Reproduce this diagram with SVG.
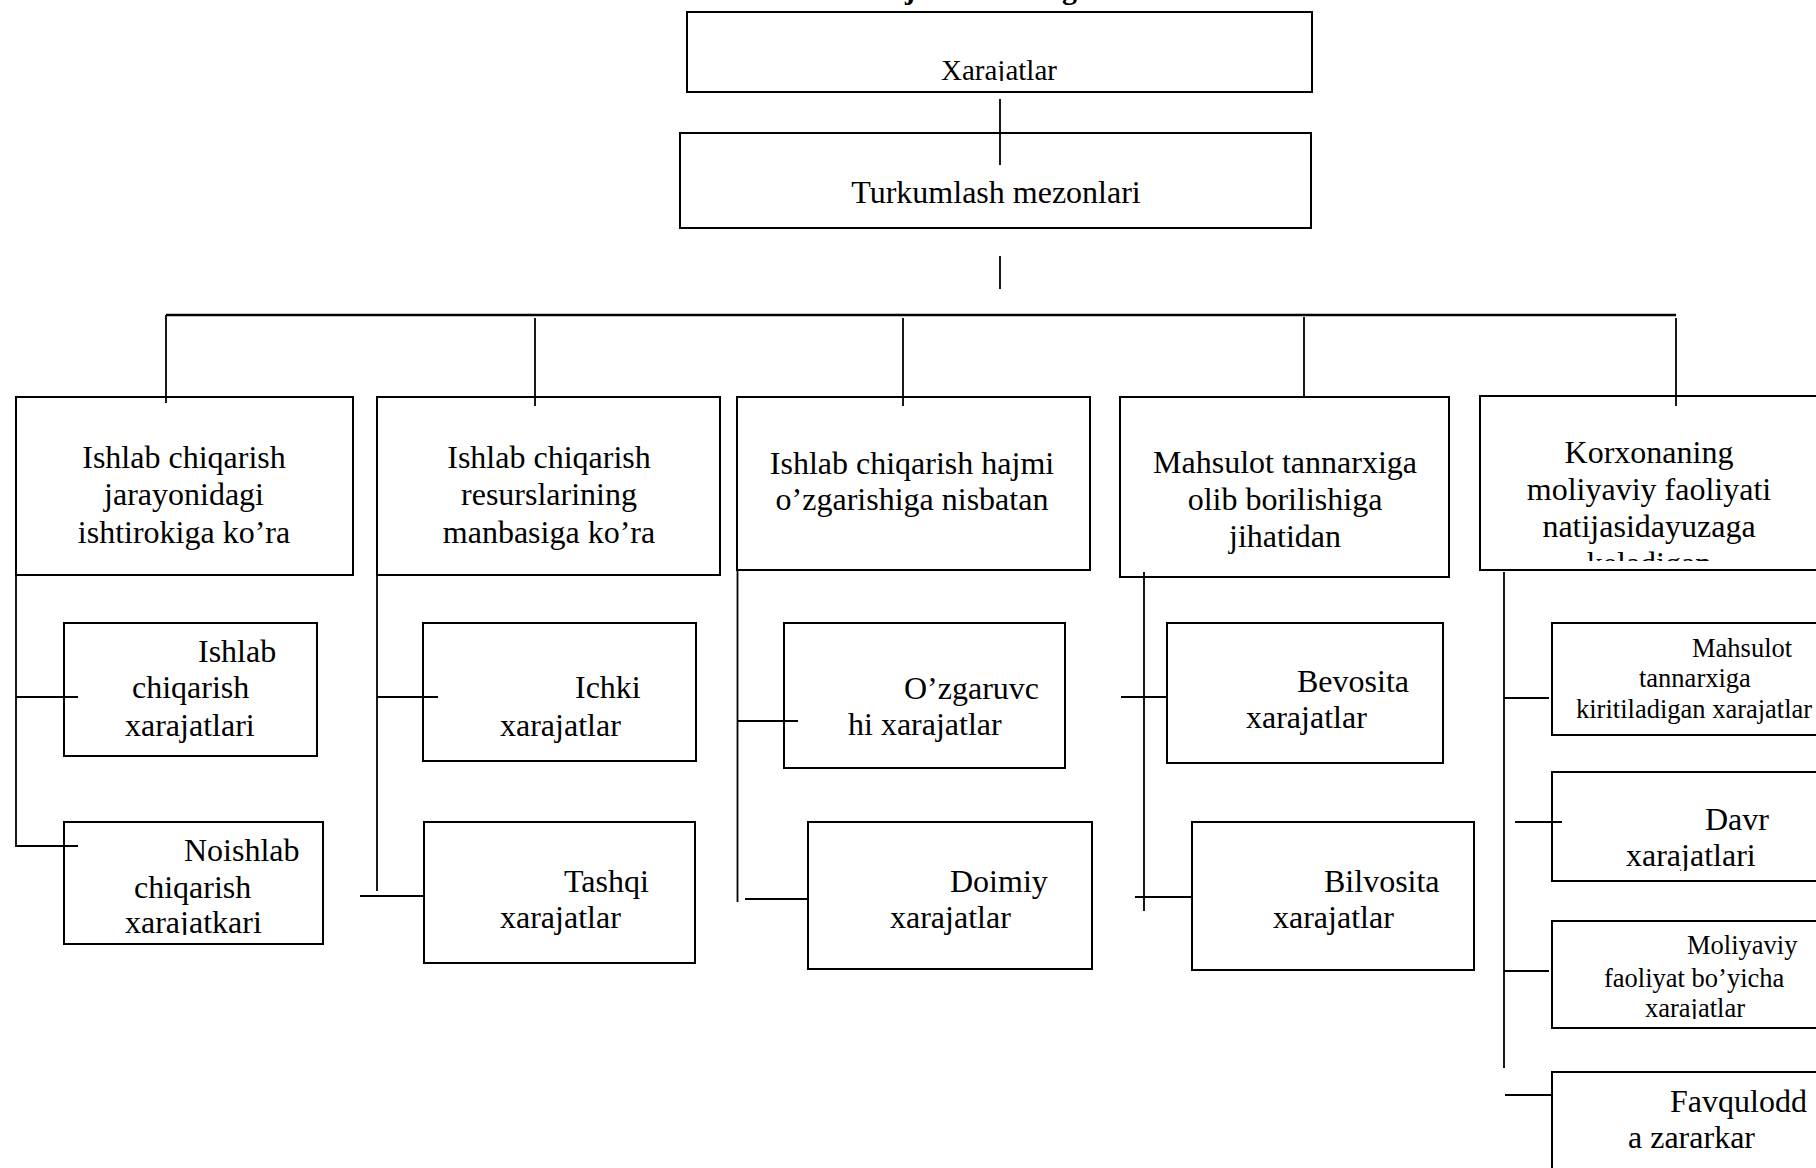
<svg xmlns="http://www.w3.org/2000/svg" width="1816" height="1168" viewBox="0 0 1816 1168">
<style>
.box{fill:none;stroke:#000;stroke-width:2}
.ln{stroke:#000;stroke-width:1.8;fill:none}
.bus{stroke:#000;stroke-width:2.6;fill:none}
.t{font-family:"Liberation Serif","Times New Roman",serif;font-size:32px;fill:#000}
.s{font-size:26.5px}
.c{text-anchor:middle}
.title{font-family:"Liberation Serif","Times New Roman",serif;font-weight:bold;font-size:30px;fill:#000}
</style>
<defs>
<clipPath id="cp0"><rect x="687" y="12" width="625" height="69"/></clipPath>
<clipPath id="cp5"><rect x="1480" y="396" width="340" height="165"/></clipPath>
<clipPath id="cp12"><rect x="64" y="822" width="259" height="113"/></clipPath>
<clipPath id="cp52"><rect x="1552" y="772" width="270" height="99"/></clipPath>
<clipPath id="cp53"><rect x="1552" y="921" width="270" height="98"/></clipPath>
</defs>
<rect width="1816" height="1168" fill="#fff"/>
<text class="title" y="-1"><tspan x="840">Xarajatlarnin</tspan><tspan x="1062">g turkumlanishi</tspan></text>

<g id="n-xarajatlar"><rect class="box" x="687" y="12" width="625" height="80"/><text class="t c" x="999" y="80" style="font-size:29px" clip-path="url(#cp0)">Xarajatlar</text></g>
<g id="n-turkumlash"><rect class="box" x="680" y="133" width="631" height="95"/><text class="t c" x="996" y="203">Turkumlash mezonlari</text></g>

<g id="n-c1"><rect class="box" x="16" y="397" width="337" height="178"/><text class="t c" x="184" y="468">Ishlab chiqarish</text><text class="t c" x="184" y="505">jarayonidagi</text><text class="t c" x="184" y="543">ishtirokiga ko’ra</text></g>
<g id="n-c2"><rect class="box" x="377" y="397" width="343" height="178"/><text class="t c" x="549" y="468">Ishlab chiqarish</text><text class="t c" x="549" y="505">resurslarining</text><text class="t c" x="549" y="543">manbasiga ko’ra</text></g>
<g id="n-c3"><rect class="box" x="737" y="397" width="353" height="173"/><text class="t c" x="912" y="474">Ishlab chiqarish hajmi</text><text class="t c" x="912" y="510">o’zgarishiga nisbatan</text></g>
<g id="n-c4"><rect class="box" x="1120" y="397" width="329" height="180"/><text class="t c" x="1285" y="473">Mahsulot tannarxiga</text><text class="t c" x="1285" y="510">olib borilishiga</text><text class="t c" x="1285" y="547">jihatidan</text></g>
<g id="n-c5"><rect class="box" x="1480" y="396" width="350" height="174"/><g clip-path="url(#cp5)"><text class="t c" x="1649" y="463">Korxonaning</text><text class="t c" x="1649" y="500">moliyaviy faoliyati</text><text class="t c" x="1649" y="537">natijasidayuzaga</text><text class="t c" x="1649" y="574">keladigan</text></g></g>

<g id="n-b11"><rect class="box" x="64" y="623" width="253" height="133"/><text class="t" x="198" y="662">Ishlab</text><text class="t" x="132" y="698">chiqarish</text><text class="t" x="125" y="736">xarajatlari</text></g>
<g id="n-b12"><rect class="box" x="64" y="822" width="259" height="122"/><g clip-path="url(#cp12)"><text class="t" x="184" y="861">Noishlab</text><text class="t" x="134" y="898">chiqarish</text><text class="t" x="125" y="933">xarajatkari</text></g></g>
<g id="n-b21"><rect class="box" x="423" y="623" width="273" height="138"/><text class="t" x="575" y="698">Ichki</text><text class="t" x="500" y="736">xarajatlar</text></g>
<g id="n-b22"><rect class="box" x="424" y="822" width="271" height="141"/><text class="t" x="564" y="892">Tashqi</text><text class="t" x="500" y="928">xarajatlar</text></g>
<g id="n-b31"><rect class="box" x="784" y="623" width="281" height="145"/><text class="t" x="904" y="699">O’zgaruvc</text><text class="t" x="848" y="735">hi xarajatlar</text></g>
<g id="n-b32"><rect class="box" x="808" y="822" width="284" height="147"/><text class="t" x="950" y="892">Doimiy</text><text class="t" x="890" y="928">xarajatlar</text></g>
<g id="n-b41"><rect class="box" x="1167" y="623" width="276" height="140"/><text class="t" x="1297" y="692">Bevosita</text><text class="t" x="1246" y="728">xarajatlar</text></g>
<g id="n-b42"><rect class="box" x="1192" y="822" width="282" height="148"/><text class="t" x="1324" y="892">Bilvosita</text><text class="t" x="1273" y="928">xarajatlar</text></g>
<g id="n-b51"><rect class="box" x="1552" y="623" width="280" height="112"/><text class="t s" x="1692" y="657">Mahsulot</text><text class="t s" x="1639" y="687">tannarxiga</text><text class="t s" x="1576" y="718">kiritiladigan xarajatlar</text></g>
<g id="n-b52"><rect class="box" x="1552" y="772" width="280" height="109"/><g clip-path="url(#cp52)"><text class="t" x="1705" y="830">Davr</text><text class="t" x="1626" y="866">xarajatlari</text></g></g>
<g id="n-b53"><rect class="box" x="1552" y="921" width="280" height="107"/><g clip-path="url(#cp53)"><text class="t s" x="1687" y="954">Moliyaviy</text><text class="t s" x="1604" y="987">faoliyat bo’yicha</text><text class="t s" x="1645" y="1017">xarajatlar</text></g></g>
<g id="n-b54"><rect class="box" x="1552" y="1072" width="280" height="120"/><text class="t" x="1670" y="1112">Favqulodd</text><text class="t" x="1628" y="1148">a zararkar</text></g>

<g id="connectors">
<path class="ln" d="M1000 99V165M1000 256V289"/>
<path class="bus" d="M166 315H1676"/>
<path class="ln" d="M166 315V403M535 318V406M903 318V406M1304 317V397M1676 318V406"/>
<path class="ln" d="M16 575V847M16 697H78M16 846H78"/>
<path class="ln" d="M377 575V891M377 697H438M360 896H424"/>
<path class="ln" d="M737.5 570V902M737.5 721H798M745 899H808"/>
<path class="ln" d="M1144 572V911M1121 697H1167M1135 897H1192"/>
<path class="ln" d="M1504 572V1068M1504 698H1549M1515 822H1562M1504 971H1549M1505 1095H1552"/>
</g>
</svg>
